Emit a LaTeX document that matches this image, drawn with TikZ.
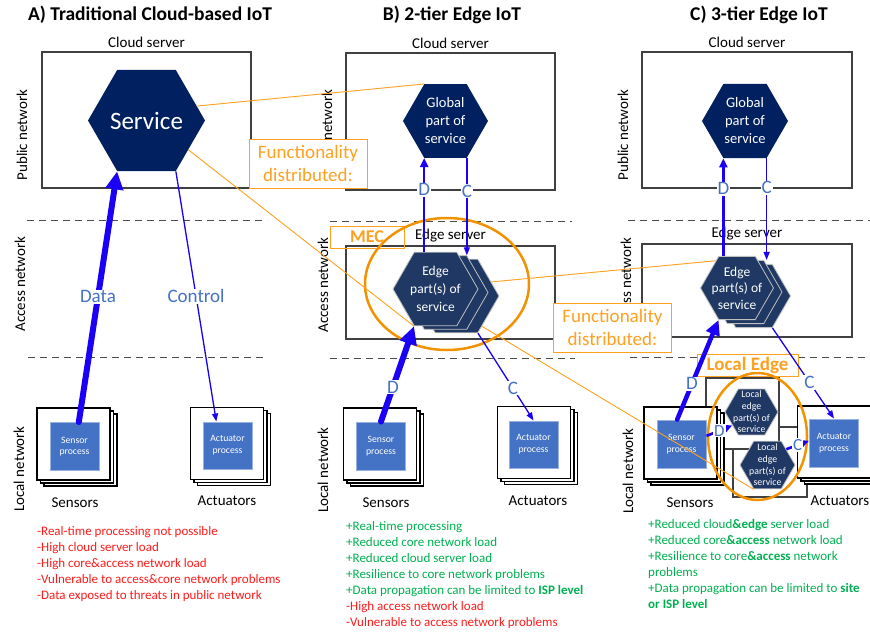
\documentclass[tikz,border=0pt]{standalone}
\usepackage{fontspec}
\setmainfont{Carlito}
\usetikzlibrary{arrows.meta, positioning, shapes.geometric, calc}
\definecolor{Navy}{HTML}{002060}
\definecolor{EdgeNavy}{HTML}{203864}
\definecolor{ProcBlue}{HTML}{4472C4}
\definecolor{ArrowBlue}{HTML}{1A00F5}
\definecolor{TagBlue}{HTML}{4472C4}
\definecolor{Amber}{HTML}{FFA020}
\definecolor{RingOrange}{HTML}{F39200}
\definecolor{ProGreen}{HTML}{00B050}
\definecolor{ConRed}{HTML}{FF1A1A}
\newcommand{\setfs}[2]{\fontsize{#1}{#2}\selectfont}

\begin{document}
\begin{tikzpicture}[x=1pt, y=-1pt,
  title/.style={font=\setfs{19.5}{23}\bfseries},
  caption/.style={font=\setfs{15}{18}},
  netlabel/.style={font=\setfs{15}{18}, rotate=90},
  serverbox/.style={draw=black!75, line width=1.1pt, inner sep=0pt},
  hexa/.style={regular polygon, regular polygon sides=6, inner sep=0pt, fill=Navy},
  edgehex/.style={hexa, fill=EdgeNavy, draw=black!25, line width=0.8pt},
  hextext/.style={text=white, align=center},
  devbox/.style={draw=black, line width=1.1pt, fill=white, minimum width=73pt, minimum height=72pt, inner sep=0pt},
  procbox/.style={fill=ProcBlue, draw=ProcBlue!55, line width=1pt, minimum width=49pt, minimum height=48pt,
                  inner sep=0pt, text=white, align=center, font=\setfs{9.7}{11.7}},
  tierline/.style={dash pattern=on 7pt off 5pt, draw=black!70, line width=0.9pt},
  flow/.style={ArrowBlue, line width=1.3pt, -{Triangle[length=8pt,width=6pt]}},
  midflow/.style={ArrowBlue, line width=2.6pt, -{Triangle[length=9pt,width=8pt]}},
  bigflow/.style={ArrowBlue, line width=6pt, line cap=round, -{Triangle[length=18pt,width=17pt]}},
  tag/.style={fill=white, text=TagBlue, inner sep=1pt, font=\setfs{19}{21}},
  spread/.style={Amber, line width=0.9pt},
  funcbox/.style={draw=Amber, fill=white, line width=1pt, text=Amber, align=center, font=\setfs{19}{23},
                  minimum width=118pt, minimum height=49pt, inner sep=0pt},
  tagbox/.style={draw=Amber, line width=1pt, text=Amber, inner sep=0pt, minimum height=22pt},
  ring/.style={ellipse, draw=RingOrange, line width=2.5pt},
  notes/.style={anchor=north west, align=left, inner sep=0pt, font=\setfs{13}{16}}]

\useasboundingbox (0,0) rectangle (870,633);

\node[title] (titleA) at (150,15) {A) Traditional Cloud-based IoT};
\node[title] (titleB) at (452,15) {B) 2-tier Edge IoT};
\node[title] (titleC) at (759,15) {C) 3-tier Edge IoT};

\draw[tierline] (27,220) -- (267,220);
\draw[tierline] (28,357) -- (267,357);
\draw[tierline] (330,221) -- (572,221);
\draw[tierline] (330,358) -- (575,358);
\draw[tierline] (628,220) -- (870,220);
\draw[tierline] (630,357) -- (870,357);

\node[netlabel] (pubA) at (22,135) {Public network};
\node[netlabel] (accA) at (20,284) {Access network};
\node[netlabel] (locA) at (19,469) {Local network};
\node[netlabel] (pubB) at (327,135) {Public network};
\node[netlabel] (accB) at (323,285) {Access network};
\node[netlabel] (locB) at (323,470) {Local network};
\node[netlabel] (pubC) at (623,135) {Public network};
\node[netlabel] (accC) at (626,285) {Access network};
\node[netlabel] (locC) at (628,471) {Local network};

\node[serverbox, minimum width=209pt, minimum height=136pt] (cloudA) at (146.5,120) {};
\node[caption, above=0pt of cloudA] (cloudAcap) {Cloud server};
\node[serverbox, minimum width=209pt, minimum height=137pt] (cloudB) at (450.5,121.5) {};
\node[caption, above=0pt of cloudB] (cloudBcap) {Cloud server};
\node[serverbox, minimum width=210pt, minimum height=136pt] (cloudC) at (747,120) {};
\node[caption, above=0pt of cloudC] (cloudCcap) {Cloud server};
\node[serverbox, minimum width=209pt, minimum height=93pt] (edgeboxB) at (450.5,292.5) {};
\node[caption, above=0pt of edgeboxB] (edgeboxBcap) {Edge server};
\node[serverbox, minimum width=210pt, minimum height=93pt] (edgeboxC) at (747,290.5) {};
\node[caption, above=0pt of edgeboxC] (edgeboxCcap) {Edge server};

\node[hexa, minimum size=117pt, label={[hextext, font=\setfs{25}{28}]center:Service}] (service) at (146.5,120.5) {};
\node[hexa, minimum size=85pt, label={[hextext, font=\setfs{14.5}{18}]center:Global\\part of\\service}] (globalB) at (445.5,121) {};
\node[hexa, minimum size=86pt, label={[hextext, font=\setfs{14.5}{18}]center:Global\\part of\\service}] (globalC) at (745,121) {};

\node[edgehex, minimum size=85pt] (edgeB3) at (456.5,296) {};
\node[edgehex, minimum size=85pt] (edgeB2) at (445.5,292.5) {};
\node[edgehex, minimum size=85pt, label={[hextext, font=\setfs{13.5}{18}]center:Edge\\part(s) of\\service}] (edgeB) at (435.5,289) {};
\node[edgehex, minimum size=73pt] (edgeC3) at (754,296) {};
\node[edgehex, minimum size=73pt] (edgeC2) at (745.5,292) {};
\node[edgehex, minimum size=73pt, label={[hextext, font=\setfs{13.5}{16.5}]center:Edge\\part(s) of\\service}] (edgeC) at (737,288) {};

\node[serverbox, fill=white, minimum width=74pt, minimum height=70pt] (siteC2) at (770,462) {};
\node[serverbox, fill=white, minimum width=73pt, minimum height=71pt] (siteC1) at (742.5,413.5) {};

\foreach \d/\n in {2/c,1/b,0/a} {
  \node[devbox] (sensAbox\n) at (73.5+\d*3.5,444+\d*3) {};
  \node[devbox] (actAbox\n) at (227+\d*3.5,443.5+\d*3) {};
  \node[devbox] (sensBbox\n) at (380+\d*3.5,444+\d*3) {};
  \node[devbox] (actBbox\n) at (534+\d*3.5,442.5+\d*3) {};
  \node[devbox] (sensCbox\n) at (680.5+\d*3.5,443+\d*3) {};
  \node[devbox] (actCbox\n) at (834+\d*3.5,442+\d*3) {};
}
\node[procbox] (sensA) at (74.5,446.5) {Sensor\\process};
\node[procbox, minimum height=47pt] (actA) at (227.5,445.5) {Actuator\\process};
\node[procbox] (sensB) at (381,446) {Sensor\\process};
\node[procbox, minimum height=47pt] (actB) at (533.5,444.5) {Actuator\\process};
\node[procbox] (sensC) at (681.5,444) {Sensor\\process};
\node[procbox] (actC) at (834,443) {Actuator\\process};

\node[caption] (sensAcap) at (75,503) {Sensors};
\node[caption] (actAcap) at (227,501) {Actuators};
\node[caption] (sensBcap) at (386,503) {Sensors};
\node[caption] (actBcap) at (538,501) {Actuators};
\node[caption] (sensCcap) at (690,503) {Sensors};
\node[caption] (actCcap) at (840,501) {Actuators};

\node[edgehex, minimum size=53pt, label={[hextext, font=\setfs{9.8}{11.7}]center:Local\\edge\\part(s) of\\service}] (le1) at (751.5,412) {};
\node[edgehex, minimum size=55pt, label={[hextext, font=\setfs{9.8}{11.7}]center:Local\\edge\\part(s) of\\service}] (le2) at (767.5,465) {};

\node[tagbox, minimum width=74pt, font=\setfs{18}{20}\bfseries] (mecTag) at (367,237) {MEC};
\node[tagbox, fill=white, minimum width=101pt, font=\setfs{19}{21}\bfseries] (localTag) at (747.5,365) {Local Edge};
\node[ring, minimum width=164pt, minimum height=132pt] (mecRing) at (447,284) {};
\node[ring, minimum width=99pt, minimum height=127pt] (localRing) at (757.5,436.5) {};

\draw[spread] (service.16) -- (globalB.120);
\draw[spread] (service.-35) -- (edgeB.240);
\draw[spread] (edgeB3.22) -- (edgeC.128);
\draw[spread] (edgeB3.-50) -- (le2.240);

\draw[bigflow] (sensA.80) -- node[tag] {Data} (service.240);
\draw[flow] (service.300) -- node[tag] {Control} (actA.115);

\draw[midflow] (globalB.240 |- edgeB.north) -- node[tag, pos=0.66] {D} (globalB.240);
\draw[flow] (globalB.300) -- node[tag, pos=0.34] {C} (globalB.300 |- edgeB2.north);
\draw[bigflow] (sensB.north) -- node[tag, pos=0.36] {D} (edgeB.240);
\draw[flow] (edgeB3.300) -- node[tag, pos=0.63] {C} (actB.north);

\draw[midflow] (globalC.240 |- edgeC.north) -- node[tag, pos=0.69] {D} (globalC.240);
\draw[flow] (globalC.300) -- node[tag, pos=0.29] {C} (globalC.300 |- edgeC2.north);
\draw[bigflow, line width=4.5pt, -{Triangle[length=15pt,width=14pt]}] (sensC.100) -- node[tag, pos=0.36] {D} (edgeC.240);
\draw[flow] (edgeC3.300) -- node[tag, pos=0.6] {C} (actC.north);
\draw[midflow] (sensC.18) -- node[tag, font=\setfs{17}{19}] {D} (le1.215);
\draw[midflow] (le2.40) -- node[tag, font=\setfs{17}{19}] {C} (actC.175);

\node[funcbox] (funcB) at (308,163.5) {Functionality\\distributed:};
\node[funcbox] (funcC) at (612.5,327.5) {Functionality\\distributed:};

\node[notes, text=ConRed] (consA) at (37,526) {-Real-time processing not possible\\-High cloud server load\\-High core\&access network load\\-Vulnerable to access\&core network problems\\-Data exposed to threats in public network};
\node[notes, text=ProGreen] (prosB) at (346,521) {+Real-time processing\\+Reduced core network load\\+Reduced cloud server load\\+Resilience to core network problems\\+Data propagation can be limited to \textbf{ISP level}\\\textcolor{ConRed}{-High access network load}\\\textcolor{ConRed}{-Vulnerable to access network problems}};
\node[notes, text=ProGreen] (prosC) at (648,519) {+Reduced cloud\textbf{\&edge} server load\\+Reduced core\textbf{\&access} network load\\+Resilience to core\textbf{\&access} network\\problems\\+Data propagation can be limited to \textbf{site}\\\textbf{or ISP level}};
\end{tikzpicture}
\end{document}
